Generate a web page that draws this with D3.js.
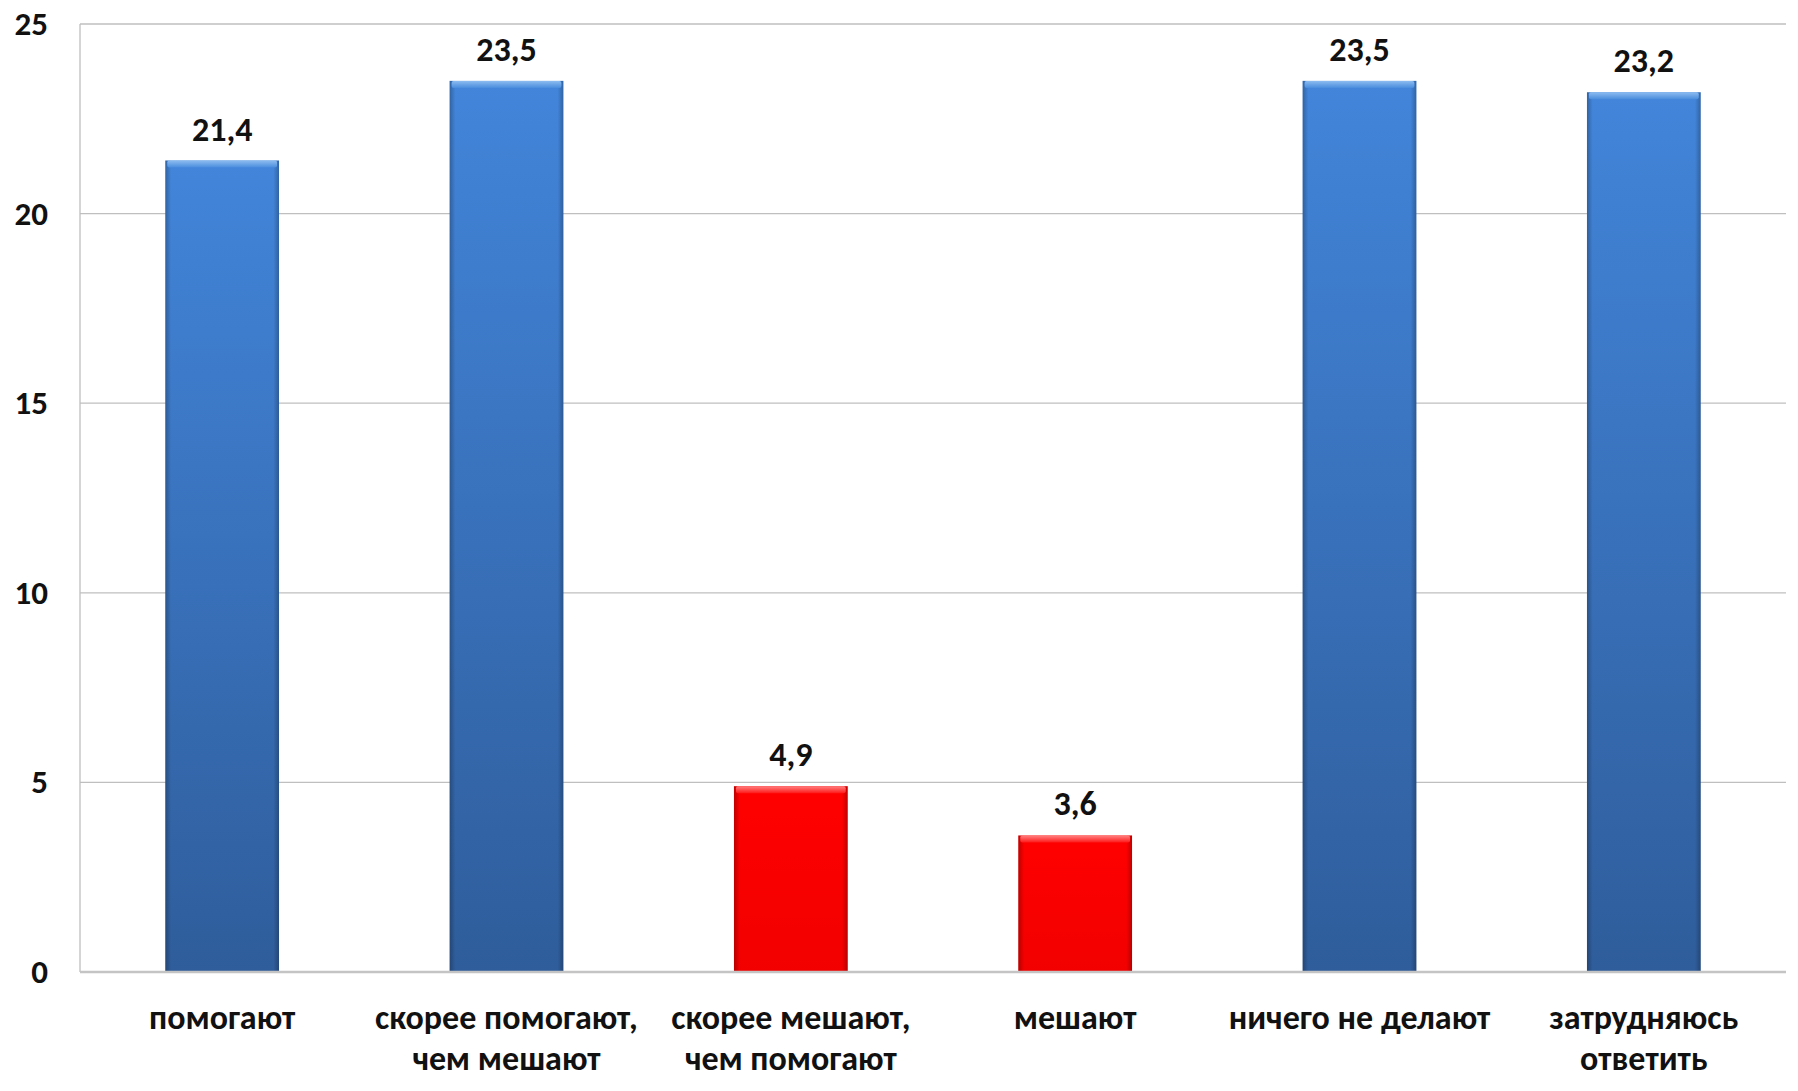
<!DOCTYPE html>
<html><head><meta charset="utf-8">
<script src="https://cdn.jsdelivr.net/npm/d3@7"></script>
<style>html,body{margin:0;padding:0;background:#fff;}svg{display:block;}</style>
</head><body>
<svg id="chart" width="1798" height="1091"></svg>
<script>
const categories = [
  ["помогают"],
  ["скорее помогают,", "чем мешают"],
  ["скорее мешают,", "чем помогают"],
  ["мешают"],
  ["ничего не делают"],
  ["затрудняюсь", "ответить"]
];
const values = [21.4, 23.5, 4.9, 3.6, 23.5, 23.2];
const valueLabels = ["21,4", "23,5", "4,9", "3,6", "23,5", "23,2"];
const negative = [false, false, true, true, false, false];
const yTicks = [0, 5, 10, 15, 20, 25];

const W = 1798, H = 1091;
const m = {left: 80, right: 12, top: 24, bottom: 119};
const FONT = "Carlito, Lato, 'Open Sans', sans-serif";
const svg = d3.select("#chart");

const x = d3.scaleBand().domain(d3.range(categories.length))
  .range([m.left, W - m.right]).paddingInner(0.6).paddingOuter(0.3);
const y = d3.scaleLinear().domain([0, 25]).range([H - m.bottom, m.top]);

const defs = svg.append("defs");
function grad(id, stops) {
  const g = defs.append("linearGradient").attr("id", id)
    .attr("x1", 0).attr("y1", 0).attr("x2", 0).attr("y2", 1);
  stops.forEach(s => g.append("stop").attr("offset", s[0]).attr("stop-color", s[1]));
}
grad("blueG", [[0, "#4285da"], [1, "#2f5d9b"]]);
grad("redG", [[0, "#ff0000"], [1, "#f20000"]]);
grad("blueCap", [[0, "#8dbcf0"], [1, "#4a8ddd"]]);
grad("redCap", [[0, "#ff8080"], [1, "#ff1a1a"]]);
const side = defs.append("linearGradient").attr("id", "sideG");
[[0, "rgba(0,0,0,0.25)"], [0.05, "rgba(0,0,0,0)"], [0.95, "rgba(0,0,0,0)"], [1, "rgba(0,0,0,0.25)"]]
  .forEach(s => side.append("stop").attr("offset", s[0]).attr("stop-color", s[1]));

// gridlines
svg.append("g").selectAll("line").data(yTicks.filter(d => d > 0)).join("line")
  .attr("x1", m.left).attr("x2", W - m.right)
  .attr("y1", d => y(d)).attr("y2", d => y(d))
  .attr("stroke", "#bfbfbf").attr("stroke-width", 1.3);

// left axis line
svg.append("line").attr("x1", m.left).attr("x2", m.left)
  .attr("y1", y(25)).attr("y2", y(0)).attr("stroke", "#bfbfbf").attr("stroke-width", 1.3);

// y tick labels
const yAxis = d3.axisLeft(y).tickValues(yTicks).tickSize(0).tickPadding(32);
const ya = svg.append("g").attr("transform", `translate(${m.left},0)`).call(yAxis);
ya.select(".domain").remove();
ya.selectAll("text").attr("font-family", FONT).attr("font-weight", "bold")
  .attr("font-size", 33).attr("fill", "#111");

// bars
const bars = svg.append("g").selectAll("g").data(values).join("g");
bars.append("rect")
  .attr("x", (d, i) => x(i)).attr("width", x.bandwidth())
  .attr("y", d => y(d)).attr("height", d => y(0) - y(d))
  .attr("fill", (d, i) => negative[i] ? "url(#redG)" : "url(#blueG)");
bars.append("rect")
  .attr("x", (d, i) => x(i)).attr("width", x.bandwidth())
  .attr("y", d => y(d)).attr("height", d => y(0) - y(d))
  .attr("fill", "url(#sideG)");
bars.append("rect")
  .attr("x", (d, i) => x(i) + 2).attr("width", x.bandwidth() - 4)
  .attr("y", d => y(d)).attr("height", 7).attr("rx", 2)
  .attr("fill", (d, i) => negative[i] ? "url(#redCap)" : "url(#blueCap)");

// baseline axis
svg.append("line").attr("x1", m.left).attr("x2", W - m.right)
  .attr("y1", y(0)).attr("y2", y(0)).attr("stroke", "#c4c4c4").attr("stroke-width", 2.5);

// value labels
svg.append("g").selectAll("text").data(values).join("text")
  .attr("x", (d, i) => x(i) + x.bandwidth() / 2)
  .attr("y", d => y(d) - 20)
  .attr("text-anchor", "middle")
  .attr("font-family", FONT).attr("font-weight", "bold").attr("font-size", 34)
  .attr("fill", "#111")
  .text((d, i) => valueLabels[i]);

// category labels
const cat = svg.append("g").selectAll("text").data(categories).join("text")
  .attr("text-anchor", "middle")
  .attr("font-family", FONT).attr("font-weight", "bold").attr("font-size", 34)
  .attr("fill", "#111");
cat.each(function(lines, i) {
  const t = d3.select(this);
  lines.forEach((ln, j) => {
    t.append("tspan").attr("x", x(i) + x.bandwidth() / 2)
      .attr("y", y(0) + 57 + j * 41).text(ln);
  });
});
</script>
</body></html>
